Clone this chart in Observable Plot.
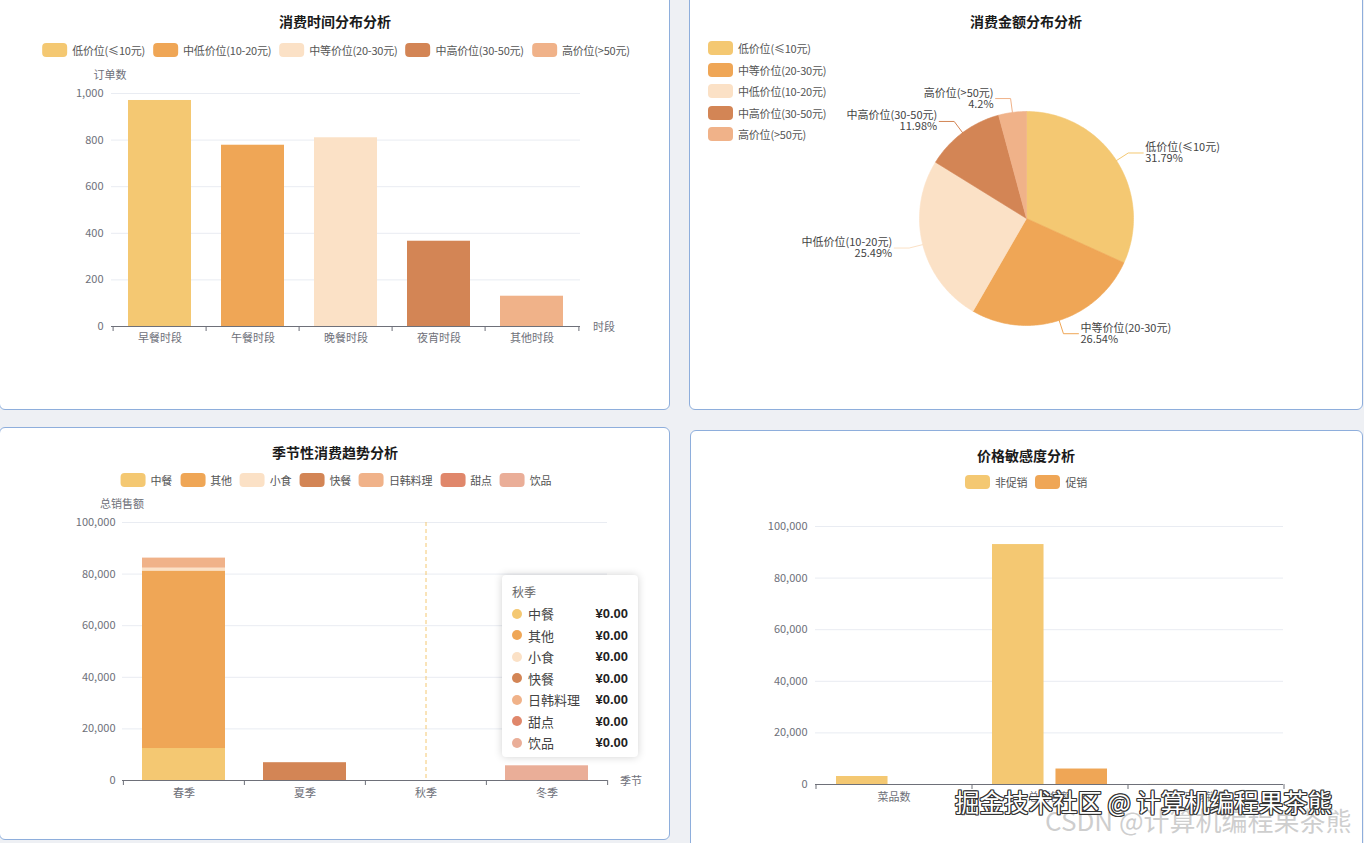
<!DOCTYPE html>
<html><head><meta charset="utf-8">
<script src="https://cdn.jsdelivr.net/npm/d3@7"></script>
<script src="https://cdn.jsdelivr.net/npm/@observablehq/plot@0.6"></script>
<style>
body{margin:0;width:1364px;height:843px;background:#eef0f4;position:relative;overflow:hidden;font-family:"Noto Sans CJK SC","Noto Sans",sans-serif;}
.panel{position:absolute;background:#fff;border:1px solid #8eaedc;border-radius:6px;box-sizing:border-box;}
.title{position:absolute;font-weight:bold;font-size:14px;line-height:20px;color:#1a1a1a;transform:translateX(-50%);white-space:nowrap;}
.legend{position:absolute;display:flex;gap:8px;font-size:11px;line-height:16px;color:#555;transform:translateX(-50%);white-space:nowrap;align-items:center;letter-spacing:-0.2px}
.legend .it,.vlegend .it{display:flex;align-items:center}
.vlegend{position:absolute;display:flex;flex-direction:column;gap:5.5px;font-size:11px;line-height:16px;color:#555;white-space:nowrap;letter-spacing:-0.2px}
.sw{display:inline-block;width:25px;height:14px;border-radius:4px;margin-right:5px}
.abs{position:absolute}
.aname{position:absolute;font-size:11px;color:#6e7079;line-height:14px;white-space:nowrap}
.tip{position:absolute;background:#fff;border-radius:4px;box-shadow:0 0 8px rgba(0,0,0,0.18);padding:8px 10px;box-sizing:border-box}
.tip .t{font-size:12px;color:#666;line-height:18px;margin-bottom:2px}
.tip .r{display:flex;align-items:center;font-size:13px;line-height:21.5px;color:#444}
.tip .d{width:10px;height:10px;border-radius:50%;margin-right:6px}
.tip .v{margin-left:auto;font-weight:bold;color:#222;font-family:"Liberation Sans","Noto Sans",sans-serif}
.wm1{position:absolute;left:955px;top:786px;font-size:24.5px;line-height:32px;color:#fff;white-space:nowrap;
 text-shadow:1px 1px 0 #333,-1px -1px 0 #333,1px -1px 0 #333,-1px 1px 0 #333,0 1px 0 #333,0 -1px 0 #333,1px 0 0 #333,-1px 0 0 #333;}
.wm2{position:absolute;left:1045px;top:804px;font-size:26px;line-height:32px;color:rgba(190,190,190,0.75);white-space:nowrap;
 text-shadow:1px 1px 0 #fff,-1px -1px 0 #fff;}
</style></head>
<body>
<div class="panel" style="left:-1px;top:-8px;width:671px;height:418px"></div>
<div class="panel" style="left:689px;top:-8px;width:674px;height:418px"></div>
<div class="panel" style="left:-1px;top:427px;width:671px;height:413px"></div>
<div class="panel" style="left:690px;top:430px;width:673px;height:430px"></div>

<div class="title" style="left:335px;top:11px">消费时间分布分析</div>
<div class="title" style="left:1026px;top:11px">消费金额分布分析</div>
<div class="title" style="left:335px;top:442px">季节性消费趋势分析</div>
<div class="title" style="left:1026px;top:445px">价格敏感度分析</div>

<div id="leg1" class="legend" style="left:336px;top:42px"></div>
<div id="leg2" class="vlegend" style="left:708px;top:40px"></div>
<div id="leg3" class="legend" style="left:336px;top:472px"></div>
<div id="leg4" class="legend" style="left:1026px;top:474px"></div>

<div id="c1" class="abs" style="left:0;top:60px"></div>
<div id="c2" class="abs" style="left:690px;top:0"></div>
<div id="c3" class="abs" style="left:0;top:490px"></div>
<div id="c4" class="abs" style="left:690px;top:500px"></div>

<div class="aname" style="left:110px;top:67px;transform:translateX(-50%)">订单数</div>
<div class="aname" style="left:593px;top:319px">时段</div>
<div class="aname" style="left:122px;top:496px;transform:translateX(-50%)">总销售额</div>
<div class="aname" style="left:620px;top:773px">季节</div>

<div id="tip" class="tip" style="left:502px;top:575px;width:136px;height:182px"></div>

<div class="wm2">CSDN @计算机编程果茶熊</div>
<div class="wm1">掘金技术社区 @ 计算机编程果茶熊</div>

<script>
const FONT = '"Noto Sans CJK SC","Noto Sans",sans-serif';

// ---------- data ----------
const priceLevels = ["低价位(≤10元)", "中低价位(10-20元)", "中等价位(20-30元)", "中高价位(30-50元)", "高价位(>50元)"];
const timeSlots = ["早餐时段", "午餐时段", "晚餐时段", "夜宵时段", "其他时段"];
const timeOrders = [970, 778, 810, 366, 130];

const pieLabels = ["低价位(≤10元)", "中等价位(20-30元)", "中低价位(10-20元)", "中高价位(30-50元)", "高价位(>50元)"];
const pieShares = [31.79, 26.54, 25.49, 11.98, 4.2];

const seasons = ["春季", "夏季", "秋季", "冬季"];
const cuisines = ["中餐", "其他", "小食", "快餐", "日韩料理", "甜点", "饮品"];
const springSales = [12400, 68800, 1100, 0, 3900, 0, 0];
const summerSales = [0, 0, 0, 6900, 0, 0, 0];
const autumnSales = [0, 0, 0, 0, 0, 0, 0];
const winterSales = [0, 0, 0, 0, 0, 0, 5700];

const metrics = ["菜品数", "总销售额", "平均销量"];
const promoGroups = ["非促销", "促销"];
const nonPromoValues = [3100, 93000, 40];
const promoValues = [0, 6000, 0];

// ---------- styles ----------
const palette = ["#F4C872", "#EFA656", "#FBE1C6", "#D38555", "#F0B289", "#E0876B", "#EAAE98"];
const pieColors = ["#F4C872", "#EFA656", "#FBE1C6", "#D38555", "#F0B289"];
const axisColor = "#6e7079";
const gridColor = "#e9ecf2";

// ---------- legends ----------
function legend(id, names, colors) {
  const el = document.getElementById(id);
  names.forEach((n, i) => {
    const it = document.createElement("div"); it.className = "it";
    const sw = document.createElement("span"); sw.className = "sw"; sw.style.background = colors[i];
    const tx = document.createElement("span"); tx.textContent = n;
    it.appendChild(sw); it.appendChild(tx); el.appendChild(it);
  });
}
legend("leg1", priceLevels, palette);
legend("leg2", pieLabels, pieColors);
legend("leg3", cuisines, palette);
legend("leg4", promoGroups, palette);

const baseStyle = {fontFamily: FONT, fontSize: "11px", color: axisColor, background: "transparent", overflow: "visible"};

// ---------- chart 1 ----------
{
  const W = 670, ml = 111, mr = 90;
  const step = (W - ml - mr) / timeSlots.length;
  const rows = timeSlots.map((s, i) => ({slot: s, v: timeOrders[i], c: palette[i]}));
  const p = Plot.plot({
    width: W, height: 300, marginLeft: ml, marginRight: mr, marginTop: 33, marginBottom: 34,
    style: baseStyle,
    x: {domain: timeSlots, paddingInner: 0.32, paddingOuter: 0.16, label: null},
    y: {domain: [0, 1000], label: null},
    marks: [
      Plot.gridY({ticks: [200, 400, 600, 800, 1000], stroke: gridColor, strokeOpacity: 1}),
      Plot.barY(rows, {x: "slot", y: "v", fill: "c"}),
      Plot.ruleY([0], {stroke: axisColor}),
      Plot.axisX({tickSize: 5, tickFormat: () => "", dx: -step / 2}),
      Plot.axisX({ticks: [timeSlots[timeSlots.length - 1]], tickSize: 5, tickFormat: () => "", dx: step / 2}),
      Plot.axisX({tickSize: 0, tickPadding: 8}),
      Plot.axisY({ticks: [0, 200, 400, 600, 800, 1000], tickSize: 0, tickPadding: 8})
    ]
  });
  document.getElementById("c1").appendChild(p);
}

// ---------- chart 2 (pie) ----------
{
  const PW = 672, PH = 410, R = 107, CX = 336, CY = 218;
  const total = d3.sum(pieShares);
  let acc = 0;
  const slices = pieShares.map((v, i) => {
    const a0 = acc / total * 2 * Math.PI; acc += v;
    const a1 = acc / total * 2 * Math.PI;
    return {name: pieLabels[i], v, a0, a1, c: pieColors[i]};
  });
  const poly = [];
  slices.forEach(s => {
    poly.push({x: 0, y: 0, k: s.name, c: s.c});
    const n = Math.max(2, Math.ceil((s.a1 - s.a0) / (Math.PI / 180)));
    for (let j = 0; j <= n; j++) {
      const a = s.a0 + (s.a1 - s.a0) * j / n;
      poly.push({x: Math.sin(a), y: Math.cos(a), k: s.name, c: s.c});
    }
    poly.push({x: 0, y: 0, k: s.name, c: s.c});
  });
  const L1 = 14 / R, L2 = 15 / R;
  const leader = [], labels = [];
  slices.forEach(s => {
    const m = (s.a0 + s.a1) / 2;
    const sx = Math.sin(m), sy = Math.cos(m);
    const side = sx >= 0 ? 1 : -1;
    const p2 = {x: sx * (1 + L1), y: sy * (1 + L1)};
    const p3 = {x: p2.x + side * L2, y: p2.y};
    leader.push({x: sx, y: sy, k: s.name, c: s.c}, {x: p2.x, y: p2.y, k: s.name, c: s.c}, {x: p3.x, y: p3.y, k: s.name, c: s.c});
    labels.push({x: p3.x, y: p3.y, side, text: s.name + "\n" + s.v + "%"});
  });
  const p = Plot.plot({
    width: PW, height: PH, margin: 0,
    style: baseStyle,
    x: {domain: [-CX / R, (PW - CX) / R], range: [0, PW], axis: null},
    y: {domain: [-(PH - CY) / R, CY / R], range: [PH, 0], axis: null},
    marks: [
      Plot.line(poly, {x: "x", y: "y", z: "k", fill: "c", stroke: "c", strokeWidth: 0.6, curve: "linear"}),
      Plot.line(leader, {x: "x", y: "y", z: "k", stroke: "c", strokeWidth: 1, curve: "linear"}),
      Plot.text(labels.filter(d => d.side > 0), {x: "x", y: "y", text: "text", textAnchor: "start", dx: 2, fill: "#444", fontSize: 11, lineAnchor: "middle"}),
      Plot.text(labels.filter(d => d.side < 0), {x: "x", y: "y", text: "text", textAnchor: "end", dx: -2, fill: "#444", fontSize: 11, lineAnchor: "middle"})
    ]
  });
  document.getElementById("c2").appendChild(p);
}

// ---------- chart 3 (stacked) ----------
{
  const W = 670, ml = 122, mr = 63;
  const step = (W - ml - mr) / seasons.length;
  const bySeason = [springSales, summerSales, autumnSales, winterSales];
  const rows = [];
  seasons.forEach((s, i) => cuisines.forEach((c, j) => rows.push({season: s, cuisine: c, v: bySeason[i][j]})));
  const p = Plot.plot({
    width: W, height: 320, marginLeft: ml, marginRight: mr, marginTop: 32, marginBottom: 30,
    style: baseStyle,
    x: {domain: seasons, paddingInner: 0.315, paddingOuter: 0.1575, label: null},
    y: {domain: [0, 100000], label: null},
    color: {domain: cuisines, range: palette},
    marks: [
      Plot.gridY({ticks: [20000, 40000, 60000, 80000, 100000], stroke: gridColor, strokeOpacity: 1}),
      Plot.barY(rows.filter(d => d.v > 0), {x: "season", y: "v", fill: "cuisine"}),
      Plot.ruleX(["秋季"], {stroke: "#F4C872", strokeDasharray: "4,3", strokeWidth: 1}),
      Plot.ruleY([0], {stroke: axisColor}),
      Plot.axisX({tickSize: 5, tickFormat: () => "", dx: -step / 2}),
      Plot.axisX({ticks: [seasons[seasons.length - 1]], tickSize: 5, tickFormat: () => "", dx: step / 2}),
      Plot.axisX({tickSize: 0, tickPadding: 9}),
      Plot.axisY({ticks: [0, 20000, 40000, 60000, 80000, 100000], tickSize: 0, tickPadding: 7})
    ]
  });
  document.getElementById("c3").appendChild(p);

  // tooltip content (hovered season)
  const tip = document.getElementById("tip");
  const hovered = 2;
  const t = document.createElement("div"); t.className = "t"; t.textContent = seasons[hovered]; tip.appendChild(t);
  cuisines.forEach((c, j) => {
    const r = document.createElement("div"); r.className = "r";
    const d = document.createElement("span"); d.className = "d"; d.style.background = palette[j];
    const n = document.createElement("span"); n.textContent = c;
    const v = document.createElement("span"); v.className = "v"; v.textContent = "¥" + bySeason[hovered][j].toFixed(2);
    r.appendChild(d); r.appendChild(n); r.appendChild(v); tip.appendChild(r);
  });
}

// ---------- chart 4 (grouped) ----------
{
  const W = 673, ml = 125, mr = 80;
  const step = (W - ml - mr) / metrics.length;
  const pin = 0.263;
  const band = step * (1 - pin);
  const barW = 51.5;
  const rowsA = metrics.map((m, i) => ({m, v: nonPromoValues[i]}));
  const rowsB = metrics.map((m, i) => ({m, v: promoValues[i]}));
  const p = Plot.plot({
    width: W, height: 320, marginLeft: ml, marginRight: mr, marginTop: 26, marginBottom: 36,
    style: baseStyle,
    x: {domain: metrics, paddingInner: pin, paddingOuter: pin / 2, label: null},
    y: {domain: [0, 100000], label: null},
    marks: [
      Plot.gridY({ticks: [20000, 40000, 60000, 80000, 100000], stroke: gridColor, strokeOpacity: 1}),
      Plot.barY(rowsA, {x: "m", y: "v", fill: palette[0], insetRight: band - barW}),
      Plot.barY(rowsB, {x: "m", y: "v", fill: palette[1], insetLeft: band - barW}),
      Plot.ruleY([0], {stroke: axisColor}),
      Plot.axisX({tickSize: 5, tickFormat: () => "", dx: -step / 2}),
      Plot.axisX({ticks: [metrics[metrics.length - 1]], tickSize: 5, tickFormat: () => "", dx: step / 2}),
      Plot.axisX({tickSize: 0, tickPadding: 9}),
      Plot.axisY({ticks: [0, 20000, 40000, 60000, 80000, 100000], tickSize: 0, tickPadding: 8})
    ]
  });
  document.getElementById("c4").appendChild(p);
}
</script>
</body></html>
